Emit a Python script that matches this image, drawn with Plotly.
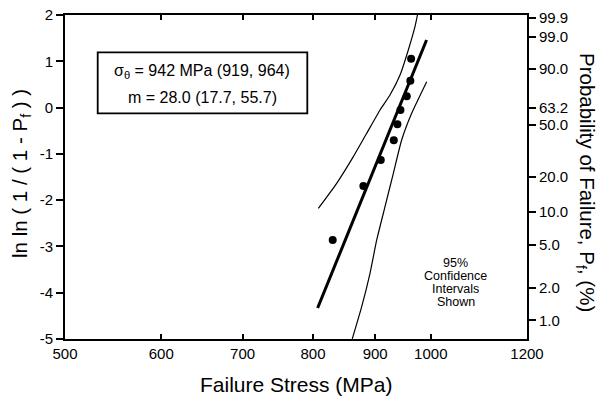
import math
import plotly.graph_objects as go

# Data
stress = [830.4, 880.1, 909.6, 932.3, 938.7, 944.1, 955.5, 962.0, 963.4]
lnln = [-2.860, -1.693, -1.132, -0.706, -0.360, -0.052, 0.244, 0.581, 1.056]

fit_x = [807, 992]
fit_y = [-4.33, 1.46]

upper_x = [808.1, 836.7, 863.5, 885.7, 908.3, 925.6, 943.4, 958.3, 970.5, 975.1]
upper_y = [-2.176, -1.636, -1.061, -0.556, -0.052, 0.272, 0.704, 1.244, 1.747, 2.0]

lower_x = [861.7, 877.3, 891.2, 902.6, 916.9, 931.5, 946.3, 964.4, 992.3]
lower_y = [-5.0, -4.302, -3.581, -2.861, -2.141, -1.420, -0.701, -0.124, 0.559]

x_ticks = [500, 600, 700, 800, 900, 1000, 1200]
y_ticks = [-5, -4, -3, -2, -1, 0, 1, 2]
y_tick_labels = ["-5", "-4", "-3", "-2", "-1", "0", "1", "2"]
prob_labels = ["99.9", "99.0", "90.0", "63.2", "50.0", "20.0", "10.0", "5.0", "2.0", "1.0"]
prob_vals = [math.log(-math.log(1 - float(p) / 100.0)) for p in prob_labels]

FONT = "Liberation Sans, Arial, Helvetica, sans-serif"
OFF = 8  # page body margin
W, H = 613 - OFF, 396 - OFF
L, R, T, B = 65, 527, 15, 339  # plot area in screenshot pixels

def px(xp):
    return (xp - L) / (R - L)

def py(yp):
    return (B - yp) / (B - T)

fig = go.Figure()

fig.add_trace(go.Scatter(x=upper_x, y=upper_y, mode="lines", line=dict(color="black", width=1.2, shape="spline", smoothing=0.5), showlegend=False, hoverinfo="skip"))
fig.add_trace(go.Scatter(x=lower_x, y=lower_y, mode="lines", line=dict(color="black", width=1.2, shape="spline", smoothing=0.5), showlegend=False, hoverinfo="skip"))
fig.add_trace(go.Scatter(x=fit_x, y=fit_y, mode="lines", line=dict(color="black", width=3), showlegend=False))
fig.add_trace(go.Scatter(x=stress, y=lnln, mode="markers", marker=dict(color="black", size=8), showlegend=False))
fig.add_trace(go.Scatter(x=[stress[0]], y=[lnln[0]], yaxis="y2", mode="markers", marker=dict(opacity=0), showlegend=False, hoverinfo="skip"))

fig.update_layout(
    width=W, height=H,
    margin=dict(l=L - OFF, r=613 - R, t=T - OFF, b=396 - B, autoexpand=False),
    paper_bgcolor="white", plot_bgcolor="white",
    font=dict(family=FONT, color="black", size=15),
    xaxis=dict(
        type="log", range=[math.log10(500), math.log10(1200)],
        tickvals=x_ticks, ticktext=[str(v) for v in x_ticks],
        ticks="inside", ticklen=5, tickwidth=1.5, tickcolor="black",
        showline=True, linewidth=2, linecolor="black", mirror="ticks",
        showgrid=False, zeroline=False, tickfont=dict(size=15), automargin=False,
        ticklabeloverflow="allow",
    ),
    yaxis=dict(
        range=[-5, 2], tickvals=y_ticks, ticktext=y_tick_labels, ticks="outside", ticklen=7, tickwidth=1.5,
        tickcolor="black", showline=True, linewidth=2, linecolor="black",
        showgrid=False, zeroline=False, tickfont=dict(size=15), automargin=False,
        ticklabeloverflow="allow",
    ),
    yaxis2=dict(
        range=[-5, 2], overlaying="y", side="right", tickvals=prob_vals, ticktext=prob_labels,
        ticks="outside", ticklen=7, tickwidth=1.5, tickcolor="black",
        showline=True, linewidth=2, linecolor="black", showgrid=False, zeroline=False,
        tickfont=dict(size=15), automargin=False, ticklabeloverflow="allow",
    ),
)

fig.add_shape(type="rect", xref="paper", yref="paper",
              x0=px(97.7), x1=px(307.3), y0=py(113.3), y1=py(52.3),
              line=dict(color="black", width=1.8), fillcolor="rgba(0,0,0,0)")

ann = [
    dict(x=px(202), y=py(71.7), text="σ<sub>θ</sub> = 942 MPa (919, 964)", font=dict(size=16)),
    dict(x=px(202), y=py(97.7), text="m = 28.0 (17.7, 55.7)", font=dict(size=16)),
    dict(x=px(455.7), y=py(262.7), text="95%", font=dict(size=12.5), height=12),
    dict(x=px(455.7), y=py(276), text="Confidence", font=dict(size=12.5), height=12),
    dict(x=px(455.7), y=py(289), text="Intervals", font=dict(size=12.5), height=12),
    dict(x=px(455.7), y=py(301.7), text="Shown", font=dict(size=12.5), height=12),
    dict(x=px(296), y=py(384), text="Failure Stress (MPa)", font=dict(size=21)),
    dict(x=px(21), y=py(174), text="ln ln ( 1 / ( 1 - P<sub>f</sub> ) )", font=dict(size=20.5), textangle=-90),
    dict(x=px(586), y=py(182), text="Probability of Failure, P<sub>f</sub>, (%)", font=dict(size=20.5), textangle=90),
]
for a in ann:
    fig.add_annotation(xref="paper", yref="paper", showarrow=False,
                       xanchor="center", yanchor="middle", **a)

fig.write_html("out.html")
